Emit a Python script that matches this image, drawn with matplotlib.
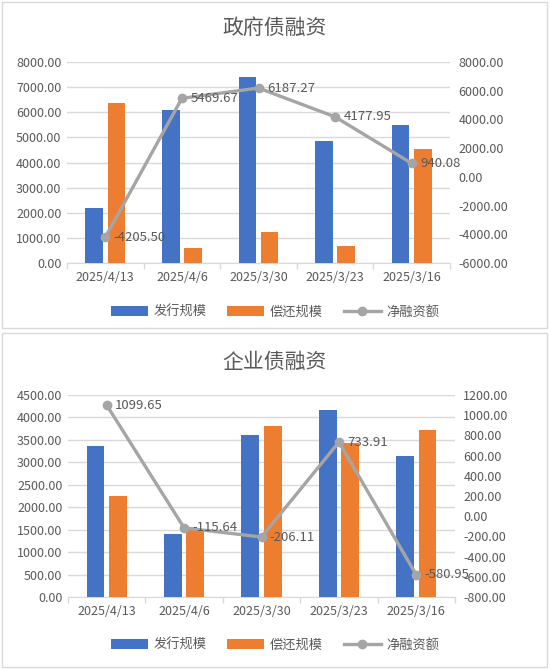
import matplotlib.pyplot as plt
import numpy as np
from matplotlib.patches import Rectangle

plt.rcParams['font.family'] = ['Noto Sans CJK SC', 'DejaVu Sans']

dates = ['2025/4/13', '2025/4/6', '2025/3/30', '2025/3/23', '2025/3/16']
series_names = ['发行规模', '偿还规模', '净融资额']

gov_issue = [2170.0, 6080.0, 7420.0, 4840.0, 5490.0]
gov_repay = [6375.5, 610.33, 1232.73, 662.05, 4549.92]
gov_net = [-4205.50, 5469.67, 6187.27, 4177.95, 940.08]

corp_issue = [3360.0, 1400.0, 3610.0, 4175.0, 3135.0]
corp_repay = [2260.35, 1515.64, 3816.11, 3441.09, 3715.95]
corp_net = [1099.65, -115.64, -206.11, 733.91, -580.95]

BLUE, ORANGE, GRAY = '#4472C4', '#ED7D31', '#A5A5A5'
TXT = '#595959'
W, H = 550, 670

fig = plt.figure(figsize=(5.5, 6.7), dpi=100)

def box(x0, y0, x1, y1):
    # pixel coords from top-left -> figure fraction
    return [x0 / W, 1 - y1 / H, (x1 - x0) / W, (y1 - y0) / H]

def panel(rect, title, title_y, issue, repay, net, lylim, lstep, rylim, rstep, legend_y):
    ax = fig.add_axes(box(*rect))
    x = np.arange(len(dates))
    bw = 0.23
    b1 = ax.bar(x - 0.145, issue, bw, color=BLUE, zorder=3, label=series_names[0])
    b2 = ax.bar(x + 0.145, repay, bw, color=ORANGE, zorder=3, label=series_names[1])
    ax.set_xlim(-0.5, len(dates) - 0.5)
    ax.set_ylim(*lylim)
    ax.set_yticks(np.arange(lylim[0], lylim[1] + 1, lstep))
    ax.yaxis.set_major_formatter(lambda v, p: f'{v:.2f}')
    ax.set_xticks(x)
    ax.set_xticklabels(dates)
    ax.set_xticks(np.arange(-0.5, len(dates), 1), minor=True)
    ax.tick_params(axis='x', which='major', length=0, labelsize=9, colors=TXT, pad=6)
    ax.tick_params(axis='x', which='minor', length=4, color='#D9D9D9', width=1)
    ax.tick_params(axis='y', length=0, labelsize=9, colors=TXT, pad=4)
    ax.grid(axis='y', color='#D9D9D9', lw=1, zorder=0)
    for s in ['top', 'left', 'right']:
        ax.spines[s].set_visible(False)
    ax.spines['bottom'].set_color('#D9D9D9')

    ax2 = ax.twinx()
    ln, = ax2.plot(x, net, color=GRAY, lw=2.4, marker='o', ms=6, zorder=5, label=series_names[2])
    ax2.set_ylim(*rylim)
    ax2.set_yticks(np.arange(rylim[0], rylim[1] + 1, rstep))
    ax2.yaxis.set_major_formatter(lambda v, p: f'{v:.2f}')
    ax2.tick_params(axis='y', length=0, labelsize=9, colors=TXT, pad=6)
    for s in ax2.spines.values():
        s.set_visible(False)
    for xi, v in zip(x, net):
        ax2.annotate(f'{v:.2f}', (xi, v), xytext=(6, 0), textcoords='offset points',
                     va='center', ha='left', fontsize=9.5, color=TXT, zorder=6)

    fig.text(0.5, 1 - title_y / H, title, ha='center', va='center', fontsize=15, color=TXT)
    fig.legend(handles=[b1, b2, ln], loc='center', bbox_to_anchor=(0.5, 1 - legend_y / H),
               ncol=3, frameon=False, fontsize=9.5, labelcolor=TXT, handlelength=2.8,
               columnspacing=1.6, handletextpad=0.4)

panel((67, 62, 450, 263), '政府债融资', 28, gov_issue, gov_repay, gov_net,
      (0, 8000), 1000, (-6000, 8000), 2000, 312)
panel((68, 395, 455, 597), '企业债融资', 362, corp_issue, corp_repay, corp_net,
      (0, 4500), 500, (-800, 1200), 200, 645)

for r in [(2, 2, 547, 328), (2, 333, 547, 667)]:
    fig.patches.append(Rectangle((r[0] / W, 1 - r[3] / H), (r[2] - r[0]) / W, (r[3] - r[1]) / H,
                                 transform=fig.transFigure, fill=False, ec='#D9D9D9', lw=1))

fig.savefig('out.png', dpi=100)
